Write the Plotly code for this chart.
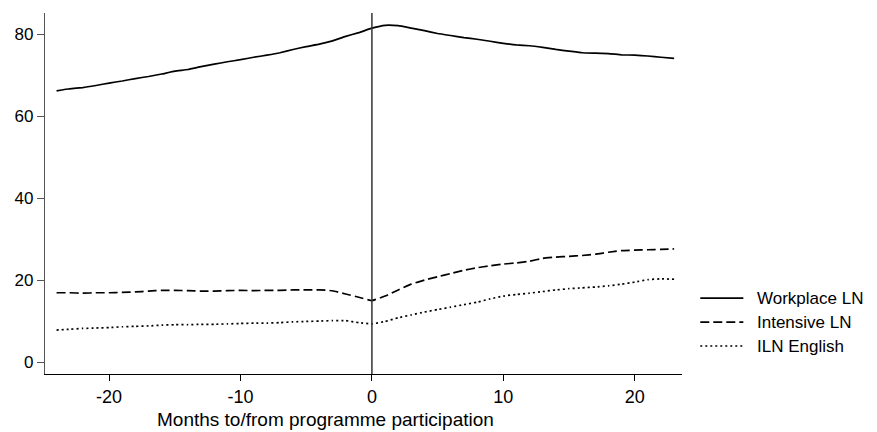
import plotly.graph_objects as go

months = list(range(-24, 24))

workplace_ln = [66.2, 66.7, 67.0, 67.5, 68.1, 68.6, 69.2, 69.7, 70.3, 71.0, 71.4, 72.1,
                72.7, 73.3, 73.8, 74.4, 74.9, 75.5, 76.3, 77.0, 77.6, 78.4, 79.5, 80.4,
                81.5, 82.2, 82.1, 81.5, 80.9, 80.2, 79.7, 79.2, 78.8, 78.3, 77.8, 77.4,
                77.2, 76.8, 76.3, 75.9, 75.5, 75.4, 75.3, 75.0, 74.9, 74.7, 74.4, 74.1]

intensive_ln = [16.9, 16.9, 16.8, 16.9, 16.9, 17.0, 17.1, 17.3, 17.5, 17.5, 17.4, 17.3,
                17.3, 17.4, 17.5, 17.4, 17.5, 17.5, 17.6, 17.6, 17.6, 17.4, 16.6, 15.8,
                15.0, 16.1, 17.6, 19.0, 20.0, 20.8, 21.6, 22.4, 23.0, 23.5, 23.9, 24.2,
                24.6, 25.3, 25.6, 25.8, 26.0, 26.3, 26.8, 27.2, 27.3, 27.4, 27.5, 27.6]

iln_english = [7.8, 8.0, 8.2, 8.3, 8.4, 8.6, 8.7, 8.8, 9.0, 9.1, 9.1, 9.2,
               9.2, 9.3, 9.4, 9.5, 9.5, 9.6, 9.8, 9.9, 10.0, 10.1, 10.1, 9.6,
               9.3, 9.9, 10.8, 11.5, 12.2, 12.8, 13.4, 14.0, 14.6, 15.4, 16.1, 16.5,
               16.8, 17.2, 17.6, 17.9, 18.1, 18.3, 18.6, 19.0, 19.5, 20.1, 20.3, 20.2]

series_names = ["Workplace LN", "Intensive LN", "ILN English"]
x_ticks = [-20, -10, 0, 10, 20]
x_tick_labels = ["-20", "-10", "0", "10", "20"]
y_ticks = [0, 20, 40, 60, 80]
x_title = "Months to/from programme participation"

FONT = "Liberation Sans, Arial, sans-serif"
styles = ["solid", "9px,4px", "2px,3px"]

fig = go.Figure()
for name, vals, dash in zip(series_names, [workplace_ln, intensive_ln, iln_english], styles):
    fig.add_trace(go.Scatter(
        x=months, y=vals, mode="lines", name=name, showlegend=False,
        line=dict(color="black", width=1.7, dash=dash, shape="spline", smoothing=0.3),
    ))

# vertical reference line at month 0
fig.add_shape(type="line", xref="x", yref="paper", x0=0, x1=0, y0=0, y1=1,
              line=dict(color="#333333", width=1.5))

# manual legend (Stata-style long keys)
legend_rows_y = [0.2104, 0.1439, 0.0775]
for name, dash, ly in zip(series_names, styles, legend_rows_y):
    fig.add_shape(type="line", xref="paper", yref="paper", x0=1.0287, x1=1.0963,
                  y0=ly, y1=ly, line=dict(color="black", width=1.7, dash=dash))
    fig.add_annotation(text=name, xref="paper", yref="paper", x=1.1151, y=ly,
                       xanchor="left", yanchor="middle", showarrow=False,
                       font=dict(family=FONT, size=17, color="black"))

fig.add_annotation(text=x_title, xref="paper", yref="paper", x=0.4406, y=-0.127,
                   yanchor="middle", xanchor="center", showarrow=False,
                   font=dict(family=FONT, size=19, color="black"))

fig.update_layout(
    width=877, height=432,
    margin=dict(l=45, r=195, t=13, b=58),
    plot_bgcolor="white", paper_bgcolor="white",
    font=dict(family=FONT, size=17, color="black"),
    showlegend=False,
    xaxis=dict(range=[-24.88, 23.6], tickvals=x_ticks, ticktext=x_tick_labels,
               ticks="outside", ticklen=6, tickcolor="black", showline=True,
               linecolor="black", linewidth=1.2, showgrid=False, zeroline=False,
               tickfont=dict(size=18), automargin=False),
    yaxis=dict(range=[-2.93, 85.2], tickvals=y_ticks, ticks="outside", ticklen=7,
               tickcolor="#555555", showline=True, linecolor="#555555", linewidth=1.2,
               showgrid=False, zeroline=False, tickfont=dict(size=17), automargin=False),
)

fig.write_html("out.html", config={"displayModeBar": False},
               post_script="document.body.style.margin='0';")
